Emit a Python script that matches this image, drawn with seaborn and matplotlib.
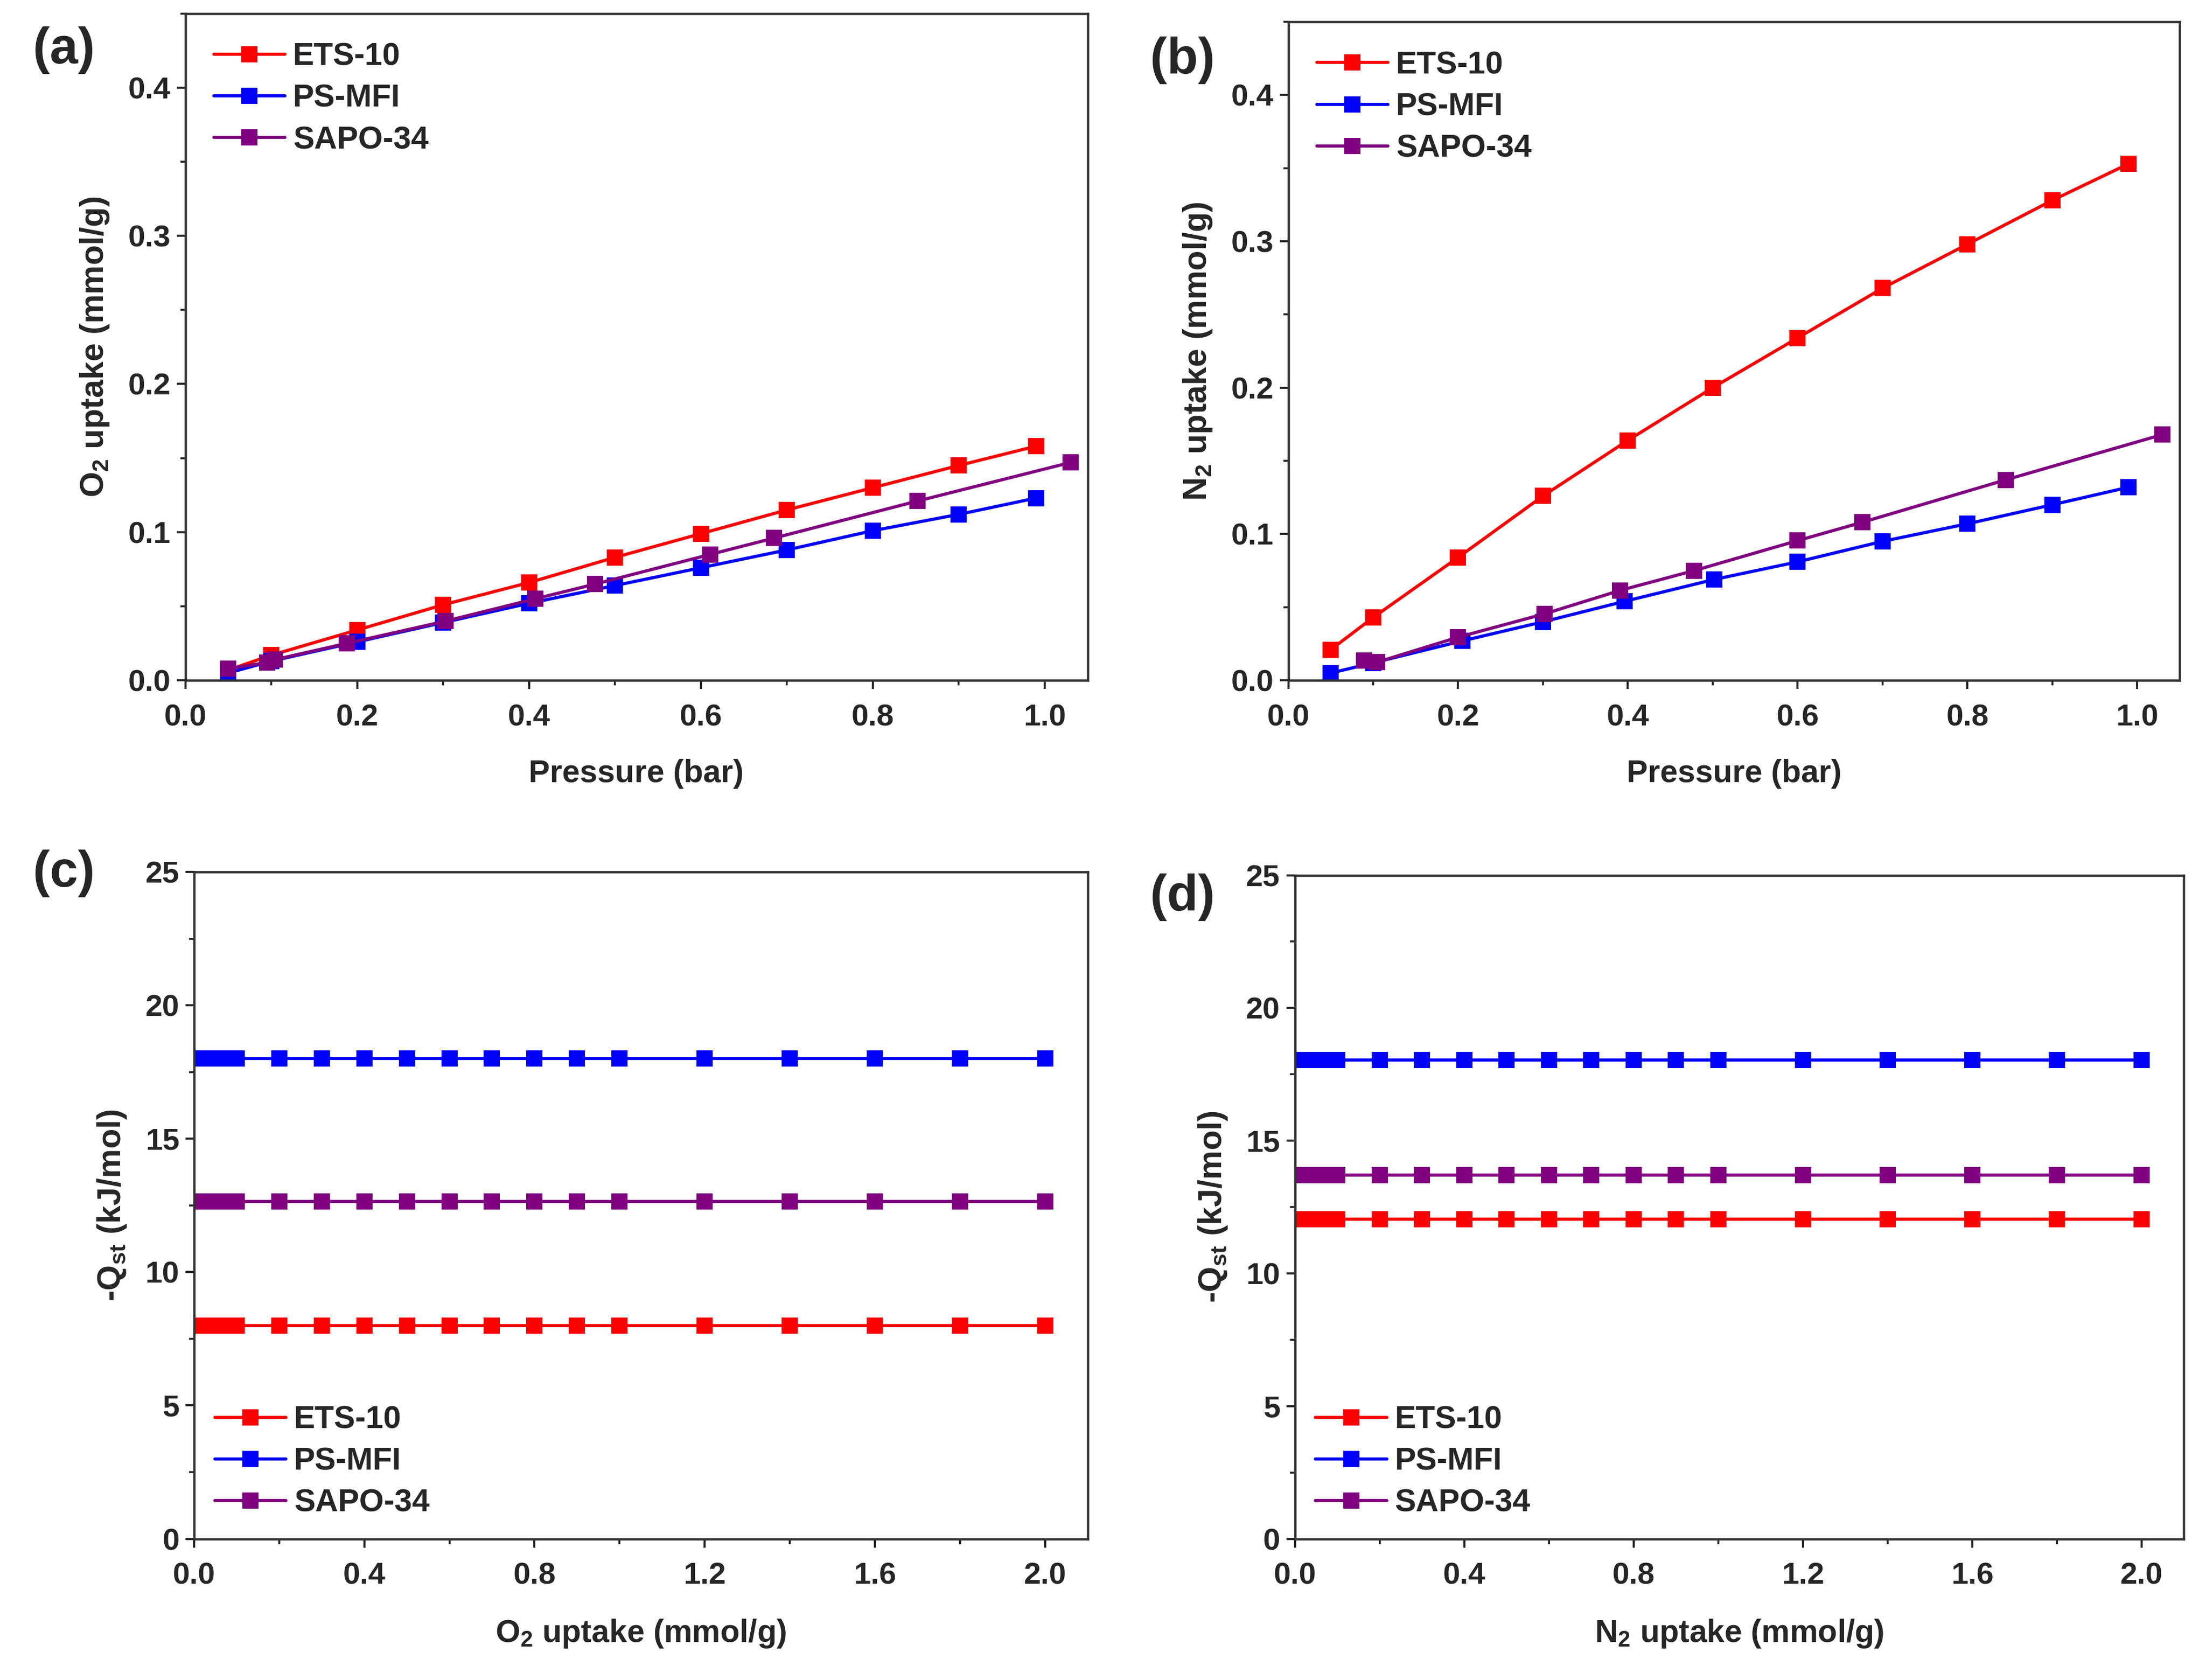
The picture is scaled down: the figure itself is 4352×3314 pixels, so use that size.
import numpy as np
import pandas as pd
import matplotlib
matplotlib.use("Agg")
import matplotlib.pyplot as plt
from matplotlib.ticker import MultipleLocator
import seaborn as sns

# ---------------- data ----------------
series_names = ["ETS-10", "PS-MFI", "SAPO-34"]
series_colors = ["#FF0000", "#0000FF", "#800080"]

# (a) O2 isotherms
a_ets_x = [0.05, 0.10, 0.20, 0.30, 0.40, 0.50, 0.60, 0.70, 0.80, 0.90, 0.99]
a_ets_y = [0.007, 0.017, 0.034, 0.051, 0.066, 0.083, 0.099, 0.115, 0.130, 0.145, 0.158]
a_mfi_x = [0.05, 0.10, 0.20, 0.30, 0.40, 0.50, 0.60, 0.70, 0.80, 0.90, 0.99]
a_mfi_y = [0.005, 0.013, 0.026, 0.039, 0.052, 0.064, 0.076, 0.088, 0.101, 0.112, 0.123]
a_sapo_x = [0.05, 0.095, 0.104, 0.188, 0.303, 0.407, 0.477, 0.611, 0.685, 0.852, 1.03]
a_sapo_y = [0.008, 0.012, 0.014, 0.025, 0.040, 0.055, 0.065, 0.085, 0.096, 0.121, 0.147]

# (b) N2 isotherms
b_ets_x = [0.05, 0.10, 0.20, 0.30, 0.40, 0.50, 0.60, 0.70, 0.80, 0.90, 0.99]
b_ets_y = [0.021, 0.043, 0.084, 0.126, 0.164, 0.200, 0.234, 0.268, 0.298, 0.328, 0.353]
b_mfi_x = [0.05, 0.10, 0.205, 0.30, 0.396, 0.502, 0.60, 0.70, 0.80, 0.90, 0.99]
b_mfi_y = [0.005, 0.012, 0.027, 0.040, 0.054, 0.069, 0.081, 0.095, 0.107, 0.120, 0.132]
b_sapo_x = [0.089, 0.105, 0.20, 0.302, 0.391, 0.478, 0.60, 0.676, 0.845, 1.03]
b_sapo_y = [0.0135, 0.0125, 0.0295, 0.0455, 0.0615, 0.075, 0.0955, 0.108, 0.137, 0.168]

# (c), (d) isosteric heats
q_uptake = [0.01, 0.02, 0.03, 0.04, 0.05, 0.06, 0.07, 0.08, 0.09, 0.10,
            0.2, 0.3, 0.4, 0.5, 0.6, 0.7, 0.8, 0.9, 1.0, 1.2, 1.4, 1.6, 1.8, 2.0]
c_qst = {"ETS-10": 8.0, "PS-MFI": 18.0, "SAPO-34": 12.65}
d_qst = {"ETS-10": 12.05, "PS-MFI": 18.05, "SAPO-34": 13.7}

# ---------------- style ----------------
sns.set_theme(style="ticks")
plt.rcParams["font.family"] = ["Liberation Sans", "DejaVu Sans"]
plt.rcParams["font.weight"] = "bold"
plt.rcParams["axes.labelweight"] = "bold"
plt.rcParams["mathtext.fontset"] = "custom"
plt.rcParams["mathtext.rm"] = "Liberation Sans:bold"
plt.rcParams["mathtext.bf"] = "Liberation Sans:bold"
plt.rcParams["mathtext.it"] = "Liberation Sans:bold"

FS = 15

fig = plt.figure(figsize=(4352 / 300, 3314 / 300), dpi=300)
ax_a = fig.add_axes([0.084, 0.595, 0.409, 0.397])
ax_b = fig.add_axes([0.584, 0.595, 0.404, 0.392])
ax_c = fig.add_axes([0.088, 0.084, 0.405, 0.397])
ax_d = fig.add_axes([0.587, 0.084, 0.403, 0.395])

line_kw = dict(marker="s", markersize=7.5, linewidth=1.5, markeredgewidth=0,
               sort=False, estimator=None)


def draw_series(ax, xs, ys, name, color):
    df = pd.DataFrame({"x": xs, "y": ys})
    sns.lineplot(data=df, x="x", y="y", ax=ax, color=color, label=name,
                 markeredgecolor=color, **line_kw)


def style_axes(ax, xlim, ylim, xmaj, xmin, ymaj, ymin, xlabel, ylabel, xfmt, yfmt):
    ax.set_xlim(*xlim)
    ax.set_ylim(*ylim)
    ax.xaxis.set_major_locator(MultipleLocator(xmaj))
    ax.xaxis.set_minor_locator(MultipleLocator(xmin))
    ax.yaxis.set_major_locator(MultipleLocator(ymaj))
    ax.yaxis.set_minor_locator(MultipleLocator(ymin))
    ax.xaxis.set_major_formatter(plt.FuncFormatter(lambda v, p: xfmt.format(v)))
    ax.yaxis.set_major_formatter(plt.FuncFormatter(lambda v, p: yfmt.format(v)))
    ax.tick_params(axis="both", which="major", direction="out", length=4,
                   width=1.0, labelsize=FS - 0.5, color="#222222")
    ax.tick_params(axis="both", which="minor", direction="out", length=2.5,
                   width=0.9, color="#222222")
    ax.tick_params(axis="x", which="major", pad=7)
    ax.tick_params(axis="y", which="major", pad=3)
    for lab in ax.get_xticklabels() + ax.get_yticklabels():
        lab.set_fontweight("bold")
    for sp in ax.spines.values():
        sp.set_visible(True)
        sp.set_linewidth(1.1)
        sp.set_color("#333333")
    ax.set_xlabel(xlabel, fontsize=FS, fontweight="bold", labelpad=13)
    ax.set_ylabel(ylabel, fontsize=FS + 0.5, fontweight="bold", labelpad=8)


# (a)
for xs, ys, n, c in zip([a_ets_x, a_mfi_x, a_sapo_x], [a_ets_y, a_mfi_y, a_sapo_y],
                        series_names, series_colors):
    draw_series(ax_a, xs, ys, n, c)
style_axes(ax_a, (0, 1.05), (0, 0.45), 0.2, 0.1, 0.1, 0.05,
           "Pressure (bar)", r"O$_{\mathbf{2}}$ uptake (mmol/g)", "{:.1f}", "{:.1f}")

# (b)
for xs, ys, n, c in zip([b_ets_x, b_mfi_x, b_sapo_x], [b_ets_y, b_mfi_y, b_sapo_y],
                        series_names, series_colors):
    draw_series(ax_b, xs, ys, n, c)
style_axes(ax_b, (0, 1.05), (0, 0.45), 0.2, 0.1, 0.1, 0.05,
           "Pressure (bar)", r"N$_{\mathbf{2}}$ uptake (mmol/g)", "{:.1f}", "{:.1f}")

# (c)
for n, c in zip(series_names, series_colors):
    draw_series(ax_c, q_uptake, [c_qst[n]] * len(q_uptake), n, c)
style_axes(ax_c, (0, 2.1), (0, 25), 0.4, 0.2, 5, 2.5,
           r"O$_{\mathbf{2}}$ uptake (mmol/g)", r"-Q$_{\mathbf{st}}$ (kJ/mol)", "{:.1f}", "{:.0f}")

# (d)
for n, c in zip(series_names, series_colors):
    draw_series(ax_d, q_uptake, [d_qst[n]] * len(q_uptake), n, c)
style_axes(ax_d, (0, 2.1), (0, 25), 0.4, 0.2, 5, 2.5,
           r"N$_{\mathbf{2}}$ uptake (mmol/g)", r"-Q$_{\mathbf{st}}$ (kJ/mol)", "{:.1f}", "{:.0f}")

leg_kw = dict(frameon=False, handlelength=2.25, handletextpad=0.25,
              labelspacing=0.37, prop={"weight": "bold", "size": FS})
ax_a.legend(loc="upper left", borderaxespad=0.5, **leg_kw)
ax_b.legend(loc="upper left", borderaxespad=0.5, **leg_kw)
ax_c.legend(loc="lower left", borderaxespad=0.25, **leg_kw)
ax_d.legend(loc="lower left", borderaxespad=0.25, **leg_kw)

# panel labels
for lbl, (x, y) in zip(["(a)", "(b)", "(c)", "(d)"],
                       [(0.029, 0.970), (0.536, 0.964), (0.029, 0.480), (0.536, 0.466)]):
    fig.text(x, y, lbl, fontsize=24, fontweight="bold", ha="center", va="center")

fig.savefig("out.png", dpi=300, facecolor="white")
